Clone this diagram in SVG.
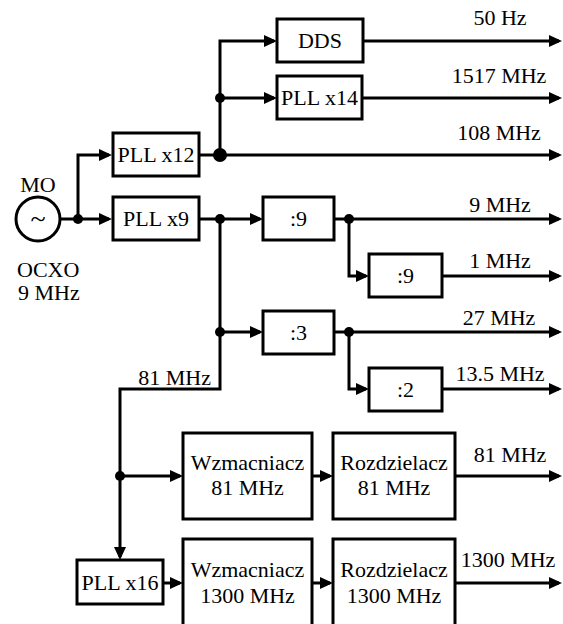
<svg xmlns="http://www.w3.org/2000/svg" width="563" height="624" viewBox="0 0 563 624">
<style>
.box{fill:#fff;stroke:#000;stroke-width:3}
.ln{fill:none;stroke:#000;stroke-width:3}
.ah{fill:#000;stroke:none}
.c{text-anchor:middle}
.r{text-anchor:end}
</style>
<rect width="563" height="624" fill="#fff"/>
<g id="connectors">
<path class="ln" d="M60,219 H109"/>
<path class="ln" d="M78,219 V155 H109"/>
<path class="ln" d="M199,155 H559"/>
<path class="ln" d="M220,155 V41 H274"/>
<path class="ln" d="M220,98 H274"/>
<path class="ln" d="M363,41 H559"/>
<path class="ln" d="M362,98 H559"/>
<path class="ln" d="M199,219 H260"/>
<path class="ln" d="M220,219 V389 H120 V557"/>
<path class="ln" d="M220,332 H260"/>
<path class="ln" d="M334,219 H559"/>
<path class="ln" d="M349,219 V276 H366"/>
<path class="ln" d="M442,276 H559"/>
<path class="ln" d="M334,332 H559"/>
<path class="ln" d="M349,332 V389 H366"/>
<path class="ln" d="M442,389 H559"/>
<path class="ln" d="M120,476 H180"/>
<path class="ln" d="M312,476 H330"/>
<path class="ln" d="M455,476 H559"/>
<path class="ln" d="M163,583 H180"/>
<path class="ln" d="M312,583 H330"/>
<path class="ln" d="M455,583 H559"/>
<polygon class="ah" points="99,213 112,219 99,225"/>
<polygon class="ah" points="99,149 112,155 99,161"/>
<polygon class="ah" points="549,149 562,155 549,161"/>
<polygon class="ah" points="264,35 277,41 264,47"/>
<polygon class="ah" points="264,92 277,98 264,104"/>
<polygon class="ah" points="549,35 562,41 549,47"/>
<polygon class="ah" points="549,92 562,98 549,104"/>
<polygon class="ah" points="250,213 263,219 250,225"/>
<polygon class="ah" points="114,547 120,560 126,547"/>
<polygon class="ah" points="250,326 263,332 250,338"/>
<polygon class="ah" points="549,213 562,219 549,225"/>
<polygon class="ah" points="356,270 369,276 356,282"/>
<polygon class="ah" points="549,270 562,276 549,282"/>
<polygon class="ah" points="549,326 562,332 549,338"/>
<polygon class="ah" points="356,383 369,389 356,395"/>
<polygon class="ah" points="549,383 562,389 549,395"/>
<polygon class="ah" points="170,470 183,476 170,482"/>
<polygon class="ah" points="320,470 333,476 320,482"/>
<polygon class="ah" points="549,470 562,476 549,482"/>
<polygon class="ah" points="170,577 183,583 170,589"/>
<polygon class="ah" points="320,577 333,583 320,589"/>
<polygon class="ah" points="549,577 562,583 549,589"/>
<circle cx="78" cy="219" r="5"/>
<circle cx="220" cy="155" r="7"/>
<circle cx="220" cy="98" r="5"/>
<circle cx="220" cy="219" r="5"/>
<circle cx="220" cy="332" r="5"/>
<circle cx="349" cy="219" r="5"/>
<circle cx="349" cy="332" r="5"/>
<circle cx="120" cy="476" r="5"/>
</g>
<g id="labels">
<text class="c" x="500" y="25" font-family="Liberation Serif" font-size="22">50 Hz</text>
<text class="c" x="499" y="83" font-family="Liberation Serif" font-size="22">1517 MHz</text>
<text class="c" x="499" y="140" font-family="Liberation Serif" font-size="22">108 MHz</text>
<text class="c" x="500" y="212" font-family="Liberation Serif" font-size="22">9 MHz</text>
<text class="c" x="500" y="268" font-family="Liberation Serif" font-size="22">1 MHz</text>
<text class="c" x="499" y="325" font-family="Liberation Serif" font-size="22">27 MHz</text>
<text class="c" x="500" y="381" font-family="Liberation Serif" font-size="22">13.5 MHz</text>
<text class="r" x="211" y="385" font-family="Liberation Serif" font-size="22">81 MHz</text>
<text class="c" x="510" y="462" font-family="Liberation Serif" font-size="22">81 MHz</text>
<text class="c" x="508" y="567" font-family="Liberation Serif" font-size="22">1300 MHz</text>
</g>
<g id="mo">
<circle cx="38" cy="219" r="22" fill="#fff" stroke="#000" stroke-width="3"/>
<text class="c" x="38" y="228" font-family="Liberation Serif" font-size="28">~</text>
<text class="c" x="38" y="192" font-family="Liberation Serif" font-size="22">MO</text>
<text x="17" y="277" font-family="Liberation Serif" font-size="22">OCXO</text>
<text x="18" y="300" font-family="Liberation Serif" font-size="22">9 MHz</text>
</g>
<g id="pll12"><rect class="box" x="113" y="133" width="86" height="43"/><text class="c" x="156" y="162" font-family="Liberation Serif" font-size="22">PLL x12</text></g>
<g id="pll9"><rect class="box" x="113" y="197" width="86" height="43"/><text class="c" x="156" y="226" font-family="Liberation Serif" font-size="22">PLL x9</text></g>
<g id="dds"><rect class="box" x="277" y="19" width="86" height="43"/><text class="c" x="320" y="48" font-family="Liberation Serif" font-size="22">DDS</text></g>
<g id="pll14"><rect class="box" x="277" y="76" width="85" height="43"/><text class="c" x="319.5" y="105" font-family="Liberation Serif" font-size="22">PLL x14</text></g>
<g id="div9a"><rect class="box" x="263" y="197" width="71" height="43"/><text class="c" x="298.5" y="226" font-family="Liberation Serif" font-size="22">:9</text></g>
<g id="div9b"><rect class="box" x="369" y="254" width="73" height="43"/><text class="c" x="405.5" y="283" font-family="Liberation Serif" font-size="22">:9</text></g>
<g id="div3"><rect class="box" x="263" y="311" width="71" height="43"/><text class="c" x="298.5" y="340" font-family="Liberation Serif" font-size="22">:3</text></g>
<g id="div2"><rect class="box" x="369" y="368" width="73" height="43"/><text class="c" x="405.5" y="397" font-family="Liberation Serif" font-size="22">:2</text></g>
<g id="wz81"><rect class="box" x="183" y="433" width="129" height="86"/><text class="c" x="247.5" y="470" font-family="Liberation Serif" font-size="22">Wzmacniacz</text><text class="c" x="247.5" y="495" font-family="Liberation Serif" font-size="22">81 MHz</text></g>
<g id="roz81"><rect class="box" x="333" y="433" width="122" height="86"/><text class="c" x="394" y="470" font-family="Liberation Serif" font-size="22">Rozdzielacz</text><text class="c" x="394" y="495" font-family="Liberation Serif" font-size="22">81 MHz</text></g>
<g id="pll16"><rect class="box" x="77" y="560" width="86" height="44"/><text class="c" x="120" y="590" font-family="Liberation Serif" font-size="22">PLL x16</text></g>
<g id="wz1300"><rect class="box" x="183" y="539" width="129" height="95"/><text class="c" x="247.5" y="577" font-family="Liberation Serif" font-size="22">Wzmacniacz</text><text class="c" x="247.5" y="603" font-family="Liberation Serif" font-size="22">1300 MHz</text></g>
<g id="roz1300"><rect class="box" x="333" y="539" width="122" height="95"/><text class="c" x="394" y="577" font-family="Liberation Serif" font-size="22">Rozdzielacz</text><text class="c" x="394" y="603" font-family="Liberation Serif" font-size="22">1300 MHz</text></g>
</svg>
